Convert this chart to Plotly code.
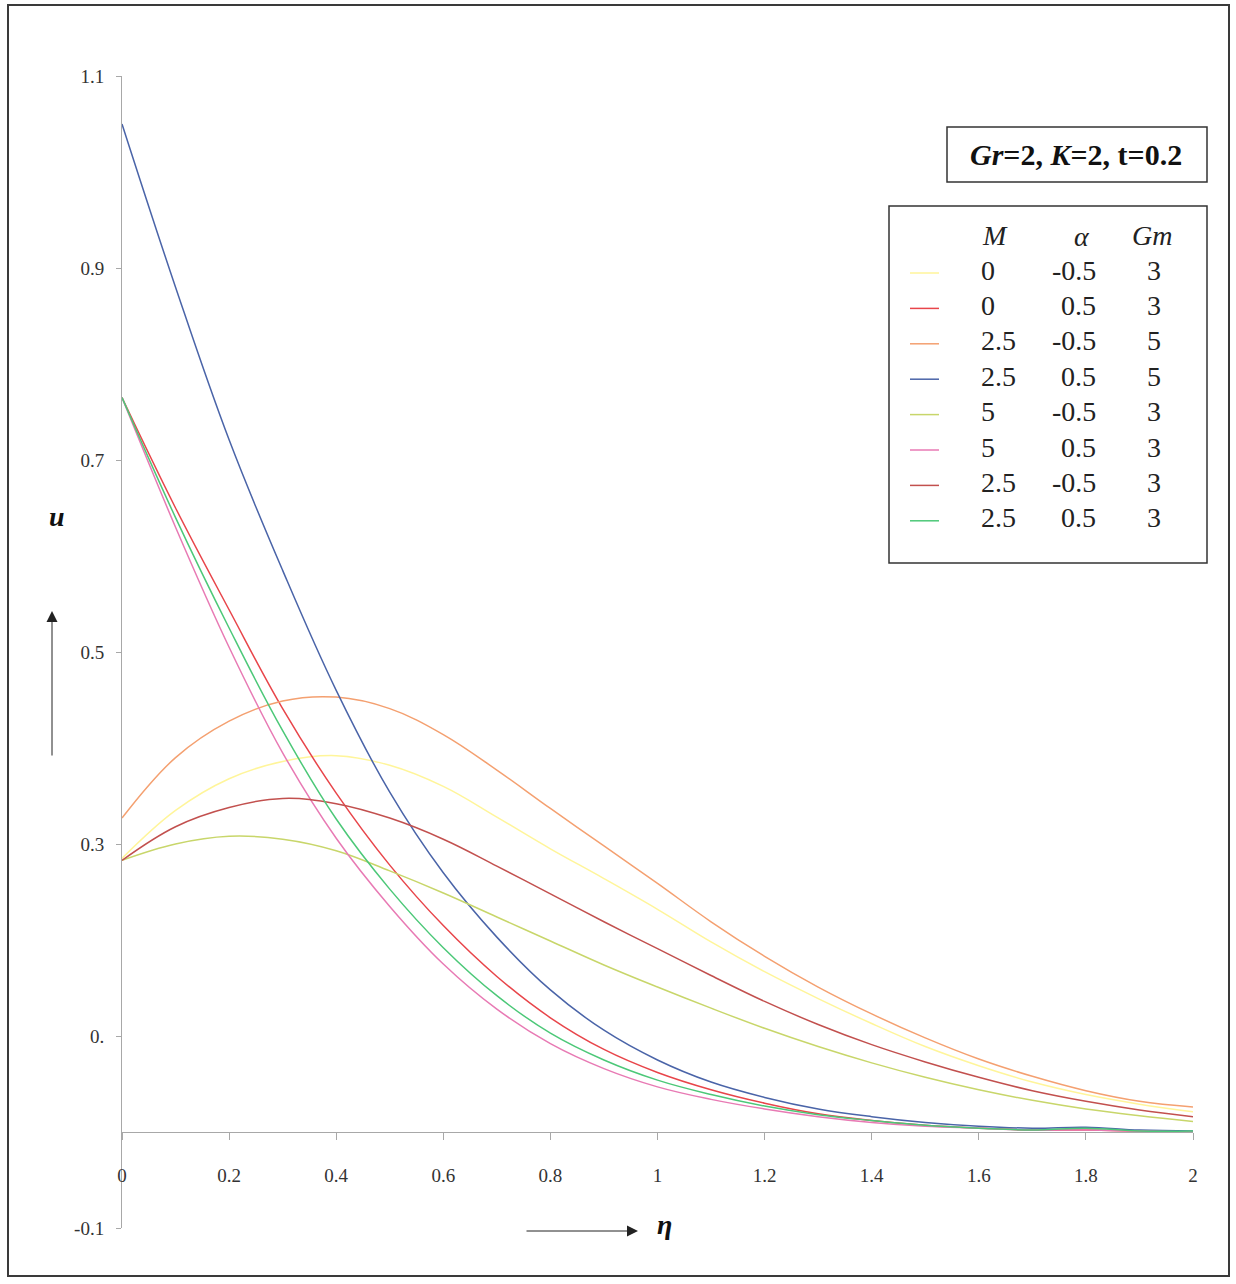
import plotly.graph_objects as go

# eta grid
eta = [0.0, 0.1, 0.2, 0.3, 0.4, 0.5, 0.6, 0.7, 0.8, 0.9, 1.0,
       1.1, 1.2, 1.3, 1.4, 1.5, 1.6, 1.7, 1.8, 1.9, 2.0]

# velocity profiles u(eta)
u_m0_am05_gm3 = [0.285, 0.335, 0.368, 0.386, 0.392, 0.382, 0.360, 0.328, 0.295, 0.264, 0.232,
                 0.198, 0.167, 0.139, 0.113, 0.089, 0.069, 0.052, 0.039, 0.029, 0.021]
u_m0_a05_gm3 = [0.765, 0.650, 0.544, 0.441, 0.353, 0.278, 0.215, 0.162, 0.119, 0.086, 0.062,
                0.044, 0.030, 0.019, 0.012, 0.007, 0.004, 0.002, 0.002, 0.001, 0.000]
u_m25_am05_gm5 = [0.327, 0.390, 0.428, 0.449, 0.453, 0.441, 0.414, 0.377, 0.337, 0.298, 0.259,
                  0.219, 0.183, 0.151, 0.123, 0.098, 0.076, 0.058, 0.043, 0.032, 0.026]
u_m25_a05_gm5 = [1.050, 0.880, 0.721, 0.585, 0.460, 0.354, 0.270, 0.203, 0.148, 0.106, 0.075,
                 0.052, 0.036, 0.024, 0.016, 0.010, 0.006, 0.004, 0.005, 0.002, 0.001]
u_m5_am05_gm3 = [0.283, 0.300, 0.308, 0.305, 0.293, 0.272, 0.249, 0.224, 0.199, 0.174, 0.151,
                 0.129, 0.108, 0.089, 0.072, 0.057, 0.044, 0.033, 0.024, 0.017, 0.011]
u_m5_a05_gm3 = [0.765, 0.630, 0.505, 0.395, 0.306, 0.235, 0.175, 0.128, 0.092, 0.066, 0.047,
                0.034, 0.024, 0.016, 0.010, 0.006, 0.004, 0.002, 0.002, 0.001, 0.000]
u_m25_am05_gm3 = [0.283, 0.318, 0.338, 0.3475, 0.342, 0.327, 0.305, 0.277, 0.248, 0.219, 0.191,
                  0.163, 0.136, 0.112, 0.091, 0.073, 0.057, 0.043, 0.032, 0.023, 0.016]
u_m25_a05_gm3 = [0.765, 0.640, 0.525, 0.418, 0.326, 0.253, 0.192, 0.142, 0.103, 0.075, 0.054,
                 0.039, 0.027, 0.018, 0.012, 0.007, 0.004, 0.002, 0.004, 0.001, 0.001]

series = [u_m0_am05_gm3, u_m0_a05_gm3, u_m25_am05_gm5, u_m25_a05_gm5,
          u_m5_am05_gm3, u_m5_a05_gm3, u_m25_am05_gm3, u_m25_a05_gm3]
col_M = ["0", "0", "2.5", "2.5", "5", "5", "2.5", "2.5"]
col_alpha = ["-0.5", "0.5", "-0.5", "0.5", "-0.5", "0.5", "-0.5", "0.5"]
col_Gm = ["3", "3", "5", "5", "3", "3", "3", "3"]
colors = ["#FFF59A", "#E8454A", "#F4A070", "#4A64A8",
          "#C8D66A", "#E87AB4", "#C2504E", "#4CC878"]

y_tickvals = [1.1, 0.9, 0.7, 0.5, 0.3, 0.1, -0.1]
y_ticktext = ["1.1", "0.9", "0.7", "0.5", "0.3", "0.", "-0.1"]
x_tickvals = [0, 0.2, 0.4, 0.6, 0.8, 1, 1.2, 1.4, 1.6, 1.8, 2]
x_ticktext = ["0", "0.2", "0.4", "0.6", "0.8", "1", "1.2", "1.4", "1.6", "1.8", "2"]

W, H = 1236, 1284
L, R, T, B = 122, 1193, 76, 1228  # plot area in pixels
Y_MIN, Y_MAX = -0.1, 1.1
SERIF = "Liberation Serif, Times New Roman, serif"


def px(x):
    return (x - L) / (R - L)


def py(y):
    return (B - y) / (B - T)


fig = go.Figure()
for vals, c in zip(series, colors):
    fig.add_trace(go.Scatter(x=eta, y=vals, mode="lines",
                             line=dict(color=c, width=1.5, shape="spline", smoothing=1.1),
                             showlegend=False, hoverinfo="skip"))

shapes = []
annotations = []

# outer frame
shapes.append(dict(type="rect", xref="paper", yref="paper",
                   x0=px(8), x1=px(1229), y0=py(1276), y1=py(5),
                   line=dict(color="#3a3a3a", width=2)))
# parameter box
shapes.append(dict(type="rect", xref="paper", yref="paper",
                   x0=px(947), x1=px(1207), y0=py(182), y1=py(127),
                   line=dict(color="#333333", width=1.5)))
annotations.append(dict(xref="paper", yref="paper", x=px(1076), y=py(155),
                        text="<b><i>Gr</i>=2, <i>K</i>=2, t=0.2</b>", showarrow=False,
                        font=dict(family=SERIF, size=30, color="#111111"),
                        xanchor="center", yanchor="middle"))
# legend table box
shapes.append(dict(type="rect", xref="paper", yref="paper",
                   x0=px(889), x1=px(1207), y0=py(563), y1=py(206),
                   line=dict(color="#333333", width=1.5)))
hdr_font = dict(family=SERIF, size=28, color="#222222")
annotations.append(dict(xref="paper", yref="paper", x=px(980), y=py(236), text="<i>M</i>",
                        showarrow=False, font=hdr_font, xanchor="left", yanchor="middle"))
annotations.append(dict(xref="paper", yref="paper", x=px(1092), y=py(237), text="<i>α</i>",
                        showarrow=False, font=hdr_font, xanchor="right", yanchor="middle"))
annotations.append(dict(xref="paper", yref="paper", x=px(1152), y=py(236), text="<i>Gm</i>",
                        showarrow=False, font=hdr_font, xanchor="center", yanchor="middle"))

row_font = dict(family=SERIF, size=28, color="#222222")
for i, (m, a, g, c) in enumerate(zip(col_M, col_alpha, col_Gm, colors)):
    yc = 270 + i * 35.4
    shapes.append(dict(type="line", xref="paper", yref="paper",
                       x0=px(910), x1=px(939), y0=py(yc + 3), y1=py(yc + 3),
                       line=dict(color=c, width=1.5)))
    annotations.append(dict(xref="paper", yref="paper", x=px(979), y=py(yc), text=m,
                            showarrow=False, font=row_font, xanchor="left", yanchor="middle"))
    annotations.append(dict(xref="paper", yref="paper", x=px(1098), y=py(yc), text=a,
                            showarrow=False, font=row_font, xanchor="right", yanchor="middle"))
    annotations.append(dict(xref="paper", yref="paper", x=px(1154), y=py(yc), text=g,
                            showarrow=False, font=row_font, xanchor="center", yanchor="middle"))

# axis titles with arrows
annotations.append(dict(xref="paper", yref="paper", x=px(57), y=py(516),
                        text="<b><i>u</i></b>", showarrow=False,
                        font=dict(family=SERIF, size=28, color="#111111"),
                        xanchor="center", yanchor="middle"))
annotations.append(dict(xref="paper", yref="paper", x=px(52), y=py(611),
                        ax=0, ay=146, text="", showarrow=True, arrowhead=2,
                        arrowsize=2.2, arrowwidth=1, arrowcolor="#222222"))
annotations.append(dict(xref="paper", yref="paper", x=px(664), y=py(1224),
                        text="<b><i>η</i></b>", showarrow=False,
                        font=dict(family=SERIF, size=28, color="#111111"),
                        xanchor="center", yanchor="middle"))
annotations.append(dict(xref="paper", yref="paper", x=px(638), y=py(1231),
                        ax=-113, ay=0, text="", showarrow=True, arrowhead=2,
                        arrowsize=2.2, arrowwidth=1, arrowcolor="#222222"))

fig.update_layout(
    width=W, height=H,
    margin=dict(l=L, r=W - R, t=T, b=H - B, pad=0),
    paper_bgcolor="white", plot_bgcolor="white",
    shapes=shapes, annotations=annotations,
    xaxis=dict(range=[0, 2], tickvals=x_tickvals, ticktext=x_ticktext,
               showgrid=False, zeroline=False, showline=True, linecolor="#a8a8a8",
               linewidth=1, ticks="outside", ticklen=7, tickcolor="#a8a8a8",
               anchor="free", position=(0 - Y_MIN) / (Y_MAX - Y_MIN),
               ticklabelstandoff=19,
               tickfont=dict(family=SERIF, size=19, color="#333333")),
    yaxis=dict(range=[Y_MIN, Y_MAX], tickvals=y_tickvals, ticktext=y_ticktext,
               showgrid=False, zeroline=False, showline=True, linecolor="#a8a8a8",
               linewidth=1, ticks="outside", ticklen=5, tickcolor="#a8a8a8",
               ticklabelstandoff=8,
               tickfont=dict(family=SERIF, size=19, color="#333333")),
)

fig.write_html("out.html")
